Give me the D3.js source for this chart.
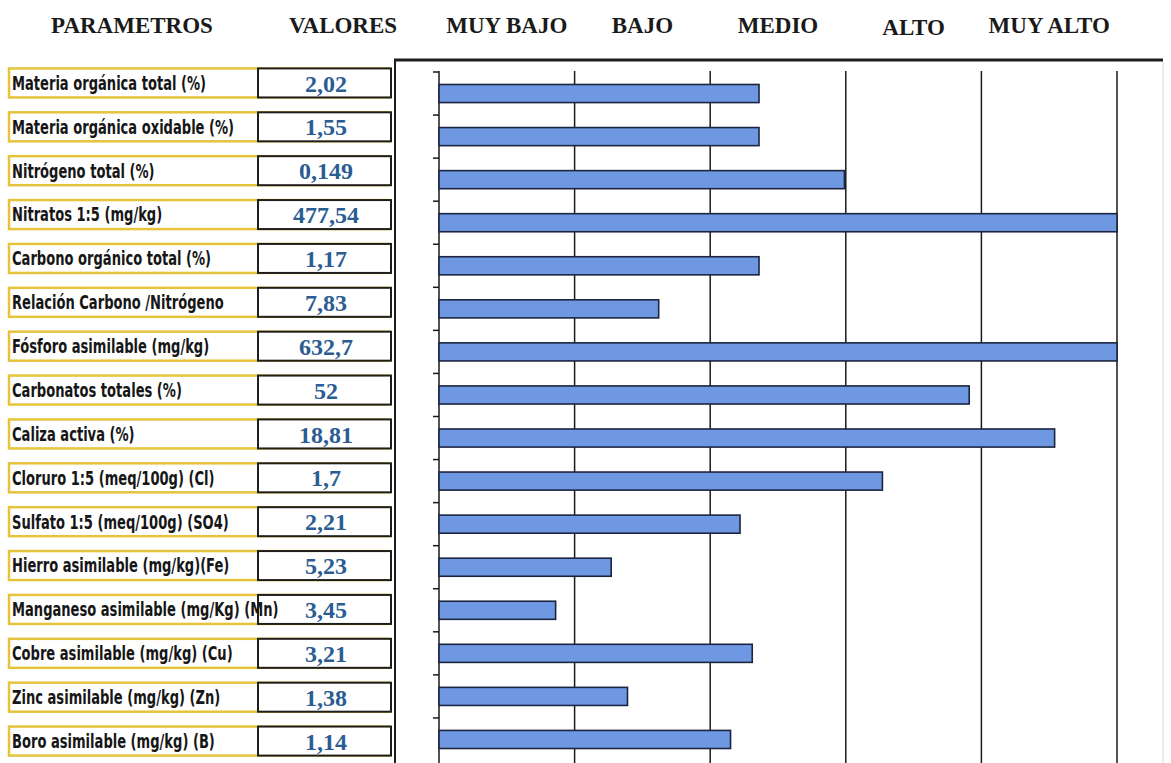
<!DOCTYPE html>
<html>
<head>
<meta charset="utf-8">
<script src="https://cdn.jsdelivr.net/npm/d3@7"></script>
<style>
    body { margin: 0; background: #fff; }
    .header { font-family: "Liberation Serif", "Times New Roman", serif; font-weight: bold; font-size: 23px; fill: #1a1a1a; }
    .param { font-family: "DejaVu Sans Condensed", "DejaVu Sans", sans-serif; font-weight: bold; font-size: 19px; fill: #161616; }
    .value { font-family: "Liberation Serif", "Times New Roman", serif; font-weight: bold; font-size: 24px; fill: #2b5c93; }
</style>
</head>
<body>
<div id="chart"></div>
<script>
// parameter names, printed values, and bar length on the 0-5 rating scale
let parametros = ["Materia orgánica total (%)", "Materia orgánica oxidable (%)", "Nitrógeno total (%)",
    "Nitratos 1:5  (mg/kg)", "Carbono orgánico total (%)", "Relación Carbono /Nitrógeno",
    "Fósforo asimilable (mg/kg)", "Carbonatos totales (%)", "Caliza activa (%)",
    "Cloruro 1:5  (meq/100g) (Cl)", "Sulfato 1:5  (meq/100g)  (SO4)", "Hierro asimilable (mg/kg)(Fe)",
    "Manganeso asimilable (mg/Kg) (Mn)", "Cobre asimilable (mg/kg) (Cu)", "Zinc asimilable (mg/kg) (Zn)",
    "Boro asimilable (mg/kg) (B)"];
let valores = ["2,02", "1,55", "0,149", "477,54", "1,17", "7,83", "632,7", "52", "18,81",
    "1,7", "2,21", "5,23", "3,45", "3,21", "1,38", "1,14"];
let niveles = [2.36, 2.36, 2.99, 5, 2.36, 1.62, 5, 3.91, 4.54, 3.27, 2.22, 1.27, 0.86, 2.31, 1.39, 2.15];
let categorias = ["MUY BAJO", "BAJO", "MEDIO", "ALTO", "MUY ALTO"];

let width = 1171, height = 763;

let svg = d3.select("#chart").append("svg")
    .attr("width", width)
    .attr("height", height);

let x = d3.scaleLinear().domain([0, 5]).range([439, 1117]);

// bars sit in one band scale, the label table drifts slightly so it gets its own
let yBar = d3.scaleBand().domain(parametros).range([72, 761]).paddingInner(0.58).paddingOuter(0.29);
let yRow = d3.scaleBand().domain(parametros).range([72, 761]);
let yLab = d3.scaleBand().domain(parametros).range([61, 763]);

// headers
let headers = [{ t: "PARAMETROS", x: 132, y: 33 }, { t: "VALORES", x: 343, y: 33 }];
svg.selectAll("text.head")
    .data(headers)
    .enter()
    .append("text")
    .attr("class", "header head")
    .attr("x", d => d.x)
    .attr("y", d => d.y)
    .attr("text-anchor", "middle")
    .text(d => d.t);

svg.selectAll("text.cat")
    .data(categorias)
    .enter()
    .append("text")
    .attr("class", "header cat")
    .attr("x", (d, i) => x(i + 0.5))
    .attr("y", d => d === "ALTO" ? 35 : 33)
    .attr("text-anchor", "middle")
    .text(d => d);

// chart frame
svg.append("line").attr("x1", 394).attr("x2", 1163).attr("y1", 60).attr("y2", 60)
    .attr("stroke", "#1e1e1e").attr("stroke-width", 3);
svg.append("line").attr("x1", 395).attr("x2", 395).attr("y1", 59).attr("y2", height)
    .attr("stroke", "#1e1e1e").attr("stroke-width", 2);
svg.append("line").attr("x1", 1163).attr("x2", 1163).attr("y1", 62).attr("y2", height)
    .attr("stroke", "#e4e4e4").attr("stroke-width", 1.5);

// vertical gridlines at each level boundary
svg.selectAll("line.grid")
    .data(x.ticks(5).filter(d => d > 0))
    .enter()
    .append("line")
    .attr("class", "grid")
    .attr("x1", d => x(d)).attr("x2", d => x(d))
    .attr("y1", 71).attr("y2", height)
    .attr("stroke", "#1a1a1a").attr("stroke-width", 1.5);

// category axis with ticks between rows
svg.append("line").attr("x1", x(0)).attr("x2", x(0)).attr("y1", 71).attr("y2", height)
    .attr("stroke", "#1a1a1a").attr("stroke-width", 1.5);
svg.selectAll("line.tick")
    .data(parametros)
    .enter()
    .append("line")
    .attr("class", "tick")
    .attr("x1", x(0) - 6).attr("x2", x(0))
    .attr("y1", d => yRow(d)).attr("y2", d => yRow(d))
    .attr("stroke", "#1a1a1a").attr("stroke-width", 1.5);

// bars
svg.selectAll("rect.bar")
    .data(niveles)
    .enter()
    .append("rect")
    .attr("class", "bar")
    .attr("x", x(0))
    .attr("y", (d, i) => yBar(parametros[i]))
    .attr("width", d => x(d) - x(0))
    .attr("height", yBar.bandwidth())
    .attr("fill", "#6f98e2")
    .attr("stroke", "#1b2540")
    .attr("stroke-width", 1.6);

// parameter table
let rows = svg.selectAll("g.row")
    .data(parametros)
    .enter()
    .append("g")
    .attr("class", "row")
    .attr("transform", d => `translate(0, ${yLab(d) + yLab.bandwidth() / 2})`);

rows.append("rect")
    .attr("x", 9).attr("y", -14.5)
    .attr("width", 380).attr("height", 29)
    .attr("fill", "none")
    .attr("stroke", "#e5c43c")
    .attr("stroke-width", 2.5);

rows.append("rect")
    .attr("x", 258).attr("y", -14.5)
    .attr("width", 133).attr("height", 29)
    .attr("fill", "#fff")
    .attr("stroke", "#1e1e1e")
    .attr("stroke-width", 2);

// condensed heavy face squeezed horizontally
rows.append("text")
    .attr("class", "param")
    .attr("transform", "translate(12, 0) scale(0.765, 1)")
    .attr("dy", "0.36em")
    .text(d => d);

rows.append("text")
    .attr("class", "value")
    .attr("x", 326)
    .attr("dy", "0.36em")
    .attr("text-anchor", "middle")
    .text((d, i) => valores[i]);
</script>
</body>
</html>
